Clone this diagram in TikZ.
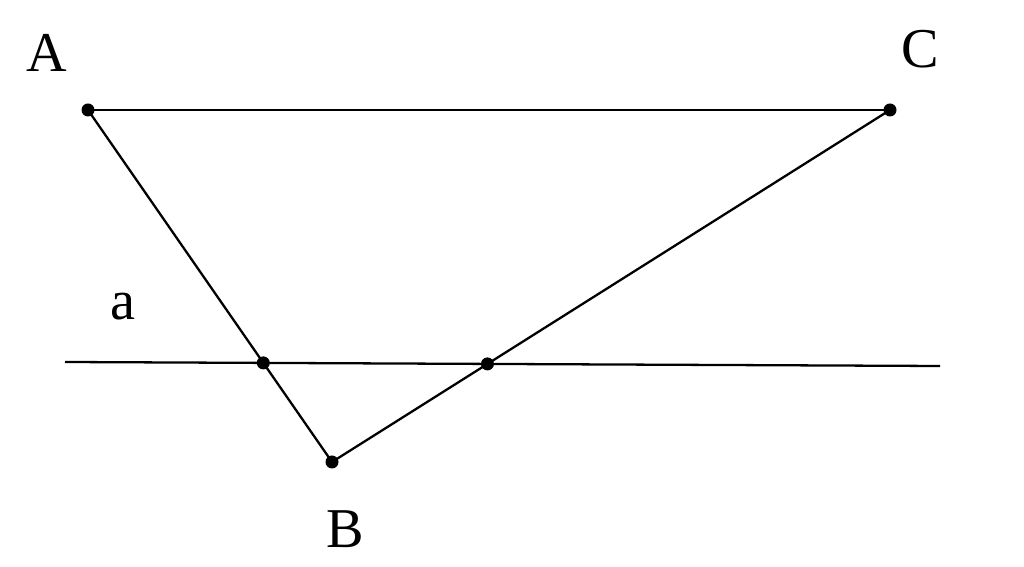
\documentclass[tikz,border=0pt]{standalone}
\usepackage{fontspec}
\setmainfont{Liberation Serif}
\usetikzlibrary{intersections}
\tikzstyle{every node}=[inner sep=0pt,font=\fontsize{32}{38}\selectfont]
\tikzstyle{seg}=[draw=black,line width=1.3pt]
\tikzstyle{pt}=[circle,fill=black,minimum size=0.26cm]

\begin{document}
\begin{tikzpicture}[x=0.2mm,y=-0.2mm]
    \useasboundingbox (0,0) rectangle (1024,567);
    \coordinate (A) at (88,110);
    \coordinate (C) at (890,110);
    \coordinate (B) at (332,462);
    \coordinate (aL) at (65,362);
    \coordinate (aR) at (940,366);
    % triangle and line a
    \draw [seg,name path=ab] (A) -- (B);
    \draw [seg,name path=bc] (B) -- (C);
    \draw [seg] (A) -- (C);
    \draw [seg,name path=la] (aL) -- (aR);
    \path [name intersections={of=ab and la,by=P}];
    \path [name intersections={of=bc and la,by=Q}];
    % points
    \node [pt] (dA) at (A) {};
    \node [pt] (dC) at (C) {};
    \node [pt] (dB) at (B) {};
    \node [pt] (dP) at (P) {};
    \node [pt] (dQ) at (Q) {};
    % labels
    \node [anchor=base] (lA) at (47,72) {A};
    \node [anchor=base] (lC) at (920,68) {C};
    \node [anchor=base] (lB) at (345,548) {B};
    \node [anchor=base] (la) at (123,320) {a};
\end{tikzpicture}
\end{document}
